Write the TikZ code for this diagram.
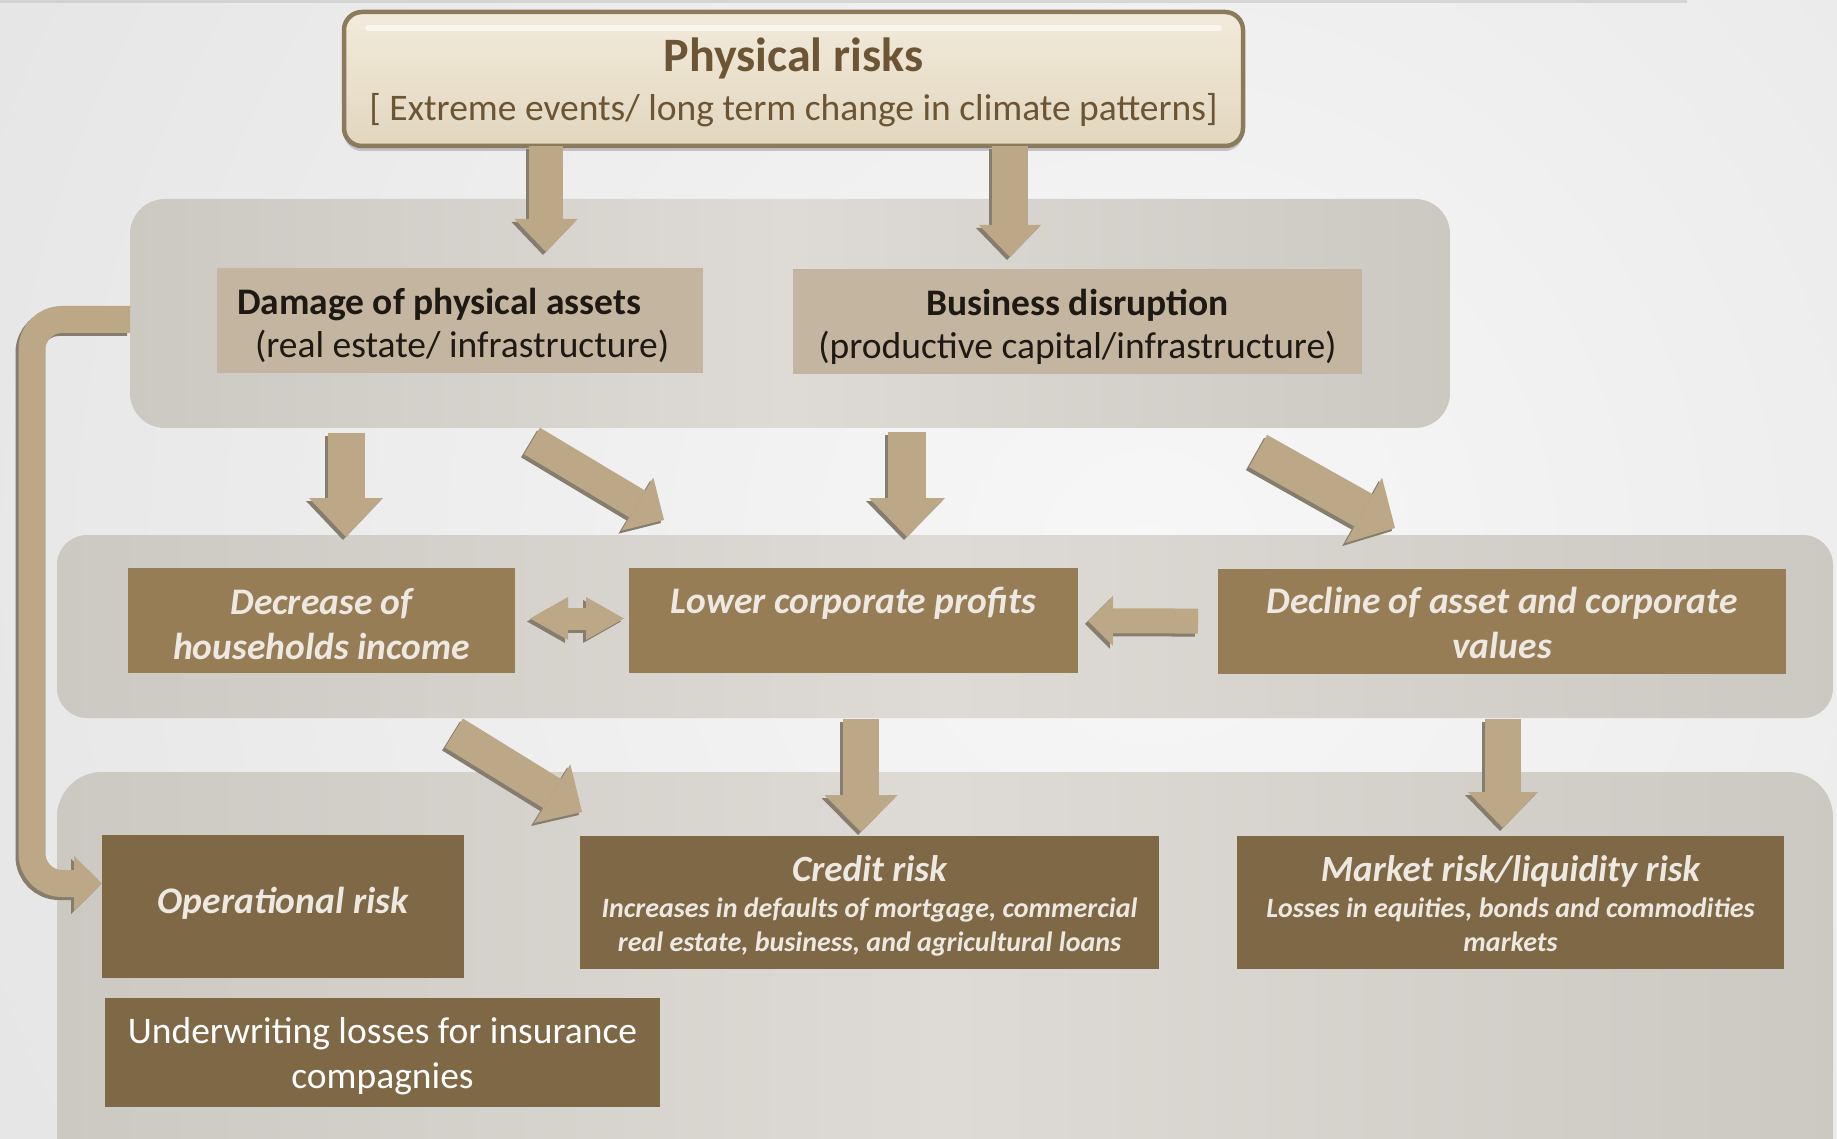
\documentclass[tikz,border=0pt]{standalone}
\usepackage{fontspec}
\setmainfont{Carlito}
\usepackage{tikz}
\usetikzlibrary{arrows.meta,shadows}
\definecolor{bglight}{HTML}{F7F7F7}
\definecolor{bgedge}{HTML}{D8D8D8}
\definecolor{panelmid}{HTML}{DEDBD6}
\definecolor{panelside}{HTML}{CCC8C2}
\definecolor{tanfill}{HTML}{C4B5A0}
\definecolor{midbrown}{HTML}{977D55}
\definecolor{darkbrown}{HTML}{7F6845}
\definecolor{arrowtan}{HTML}{BCA886}
\definecolor{arrowshade}{HTML}{857D6E}
\definecolor{physbottom}{HTML}{E2D6BE}
\definecolor{phystop}{HTML}{F2EBDB}
\definecolor{physborder}{HTML}{8C7A5C}
\definecolor{titlebrown}{HTML}{6B5535}
\definecolor{darktext}{HTML}{1E1913}
\definecolor{lighttext}{HTML}{EDE9E2}

\newcommand{\fsz}[2]{\fontsize{#1}{#2}\selectfont}
% lower one line of a node text by #1 pt, keeping its size
\newcommand{\tdn}[2]{\raisebox{-#1pt}[\height][\depth]{#2}}

\tikzset{
  plainbox/.style={inner sep=0pt, outer sep=0pt, align=center},
  panel/.style={plainbox, rounded corners=#1, left color=panelside, right color=panelside, middle color=panelmid},
  tanbox/.style={plainbox, fill=tanfill, text=darktext, font=\fsz{37.5}{43}},
  midbox/.style={plainbox, fill=midbrown, text=lighttext, font=\fsz{37.5}{45}\bfseries\itshape},
  riskbox/.style={plainbox, fill=darkbrown, text=lighttext, font=\fsz{28}{34}\bfseries\itshape},
  blk/.style args={#1/#2/#3}{line width=#1pt, -{Triangle[width=#2pt,length=#3pt,line width=0pt]}},
}

% block arrow with a dark edge below it
\newcommand{\barrow}[4][]{%
  \draw[blk=#2, arrowshade, transform canvas={xshift=-3pt,yshift=-3pt}, #1] #3 -- #4;
  \draw[blk=#2, arrowtan, #1] #3 -- #4;}

\begin{document}
\begin{tikzpicture}[x=1pt,y=-1pt]
\useasboundingbox (0,0) rectangle (1837,1139);
\clip (0,0) rectangle (1837,1139);

% Background
\fill[bgedge] (0,0) rectangle (1837,1139);
\shade[inner color=bglight, outer color=bgedge] (1150,560) circle (2300);
\fill[gray!50, opacity=.5] (0,0) rectangle (1687,3);

% Panels
\node[panel=35pt, minimum width=1320pt, minimum height=229pt] (upperpanel) at (790,313.5) {};
\node[panel=30pt, minimum width=1776pt, minimum height=183pt] (midpanel) at (945,626.5) {};
\node[panel=45pt, minimum width=1776pt, minimum height=420pt] (lowpanel) at (945,982) {};

% Top box
\node[plainbox, draw=physborder, line width=4.5pt, rounded corners=18pt,
      top color=phystop, bottom color=physbottom, text=titlebrown,
      minimum width=899pt, minimum height=134pt, font=\fsz{37.5}{49},
      drop shadow={shadow xshift=0pt, shadow yshift=-5pt, opacity=.4}] (phys) at (793.5,79)
  {\tdn{3.5}{\fsz{48}{49}\bfseries Physical risks}\\ \tdn{3.5}{[ Extreme events/ long term change in climate patterns]}};
\draw[white, opacity=.6, line width=6pt, line cap=round]
  ([xshift=24pt,yshift=-16pt]phys.north west) -- ([xshift=-24pt,yshift=-16pt]phys.north east);

% First level
\node[tanbox, minimum width=486pt, minimum height=105pt, text width=446pt, align=flush left] (damage) at (460,320.5)
  {\tdn{5}{\textbf{Damage of physical assets}}\\ \tdn{5}{\hspace*{18pt}(real estate/ infrastructure)}};
\node[tanbox, minimum width=569pt, minimum height=105pt] (business) at (1077.5,321.5)
  {\tdn{5}{\textbf{Business disruption}}\\ \tdn{5}{(productive capital/infrastructure)}};

% Second level
\node[midbox, minimum width=387pt, minimum height=105pt] (decrease) at (321.5,620.5)
  {\tdn{3.5}{Decrease of}\\ \tdn{3.5}{households income}};
\node[midbox, minimum width=449pt, minimum height=105pt] (lower) at (853.5,620.5)
  {\tdn{2.3}{Lower corporate profits}\\ \mbox{}};
\node[midbox, minimum width=568pt, minimum height=105pt] (decline) at (1502,621.5)
  {\tdn{1.2}{Decline of asset and corporate}\\ \tdn{1.2}{values}};

% Risks
\node[riskbox, minimum width=362pt, minimum height=143pt] (oprisk) at (283,906.5)
  {\tdn{-3.5}{\fsz{37.5}{35}Operational risk}};
\node[riskbox, minimum width=579pt, minimum height=133pt] (credit) at (869.5,902.5)
  {\tdn{3.5}{\fsz{37}{35}Credit risk}\\[2pt] \tdn{3.5}{Increases in defaults of mortgage, commercial}\\ \tdn{3.5}{real estate, business, and agricultural loans}};
\node[riskbox, minimum width=547pt, minimum height=133pt] (market) at (1510.5,902.5)
  {\tdn{1.5}{\fsz{37}{35}Market risk/liquidity risk}\\[2pt] \tdn{1.5}{Losses in equities, bonds and commodities}\\ \tdn{1.5}{markets}};
\node[plainbox, fill=darkbrown, text=white, font=\fsz{37.5}{44.5},
      minimum width=555pt, minimum height=109pt] (underw) at (382.5,1052.5)
  {\tdn{3.5}{Underwriting losses for insurance}\\ \tdn{3.5}{compagnies}};

% Arrow ends
\coordinate (a1s) at (546,146);  \coordinate (a1e) at (546,252);
\coordinate (a2s) at (1010,146); \coordinate (a2e) at (1010,257);
\coordinate (a3s) at (346,433);  \coordinate (a3e) at (346,537);
\coordinate (a4s) at (532,441);  \coordinate (a4e) at (664,520);
\coordinate (a5s) at (907,432);  \coordinate (a5e) at (907,537);
\coordinate (a6s) at (1258,451); \coordinate (a6e) at (1395,528);
\coordinate (a7s) at (454,733);  \coordinate (a7e) at (582,812);
\coordinate (a8s) at (861,719);  \coordinate (a8e) at (861,832);
\coordinate (a9s) at (1503,719); \coordinate (a9e) at (1503,828);

% Arrows
\barrow{34/63/33}{(a1s)}{(a1e)}
\barrow{36/62/32}{(a2s)}{(a2e)}
\barrow{37/74/39}{(a3s)}{(a3e)}
\barrow{31/62/31}{(a4s)}{(a4e)}
\barrow{38/76/39}{(a5s)}{(a5e)}
\barrow{37/75/36}{(a6s)}{(a6e)}
\barrow{34/69/35}{(a7s)}{(a7e)}
\barrow{36/73/37}{(a8s)}{(a8e)}
\barrow{36/70/36}{(a9s)}{(a9e)}
\barrow[shorten >=10pt, shorten <=20pt]{25/50/25}{(decline)}{(lower)}
\draw[line width=22pt, arrowshade, transform canvas={xshift=-3pt,yshift=-3pt},
      {Triangle[width=43pt,length=38pt,line width=0pt]}-{Triangle[width=43pt,length=38pt,line width=0pt]},
      shorten <=15pt, shorten >=5pt] ([yshift=2pt]decrease.east) -- ([yshift=2pt]lower.west);
\draw[line width=22pt, arrowtan,
      {Triangle[width=43pt,length=38pt,line width=0pt]}-{Triangle[width=43pt,length=38pt,line width=0pt]},
      shorten <=15pt, shorten >=5pt] ([yshift=2pt]decrease.east) -- ([yshift=2pt]lower.west);

% Feedback to operational risk
\draw[blk=27/55/28, arrowshade, rounded corners=30pt, transform canvas={xshift=-3pt,yshift=-3pt}]
  ([yshift=-6pt]upperpanel.west) -- ++(-98,0) |- ([yshift=23pt]oprisk.west);
\draw[blk=27/55/28, arrowtan, rounded corners=30pt]
  ([yshift=-6pt]upperpanel.west) -- ++(-98,0) |- ([yshift=23pt]oprisk.west);
\end{tikzpicture}
\end{document}
